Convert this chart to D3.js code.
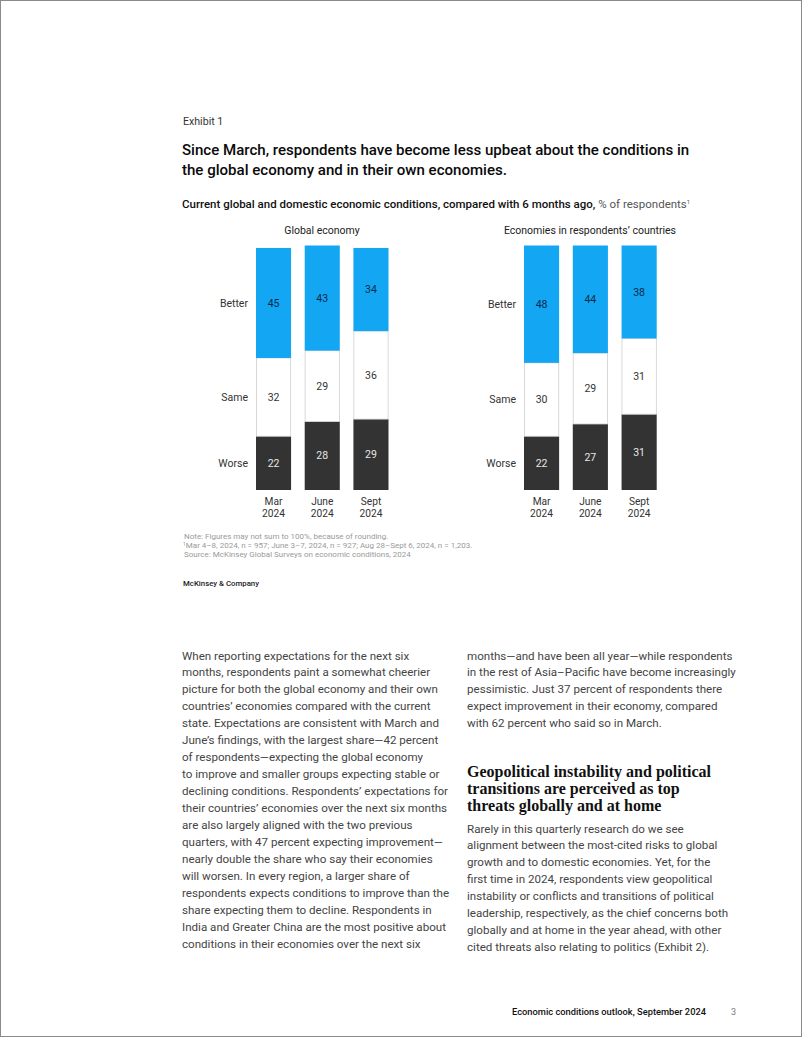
<!DOCTYPE html>
<html>
<head>
<meta charset="utf-8">
<script src="https://cdn.jsdelivr.net/npm/d3@7/dist/d3.min.js"></script>
<style>
  html, body { margin: 0; padding: 0; background: #fff; }
  svg { display: block; }
  text { font-family: Roboto, "Liberation Sans", sans-serif; }
  text.serif { font-family: "Liberation Serif", "DejaVu Serif", serif; }
</style>
</head>
<body>
<svg id="page" width="802" height="1037"></svg>
<script>
// ---------- data ----------
const periods = ["Mar 2024", "June 2024", "Sept 2024"];
const categories = ["Worse", "Same", "Better"];
const globalWorse = [22, 28, 29];
const globalSame = [32, 29, 36];
const globalBetter = [45, 43, 34];
const domesticWorse = [22, 27, 31];
const domesticSame = [30, 29, 31];
const domesticBetter = [48, 44, 38];
const panelTitles = ["Global economy", "Economies in respondents’ countries"];

const exhibitLabel = "Exhibit 1";
const titleLines = [
  "Since March, respondents have become less upbeat about the conditions in",
  "the global economy and in their own economies."
];
const subtitleBold = "Current global and domestic economic conditions, compared with 6 months ago,";
const subtitleLight = " % of respondents";
const notes = [
  "Note: Figures may not sum to 100%, because of rounding.",
  "Mar 4–8, 2024, n = 957; June 3–7, 2024, n = 927; Aug 28–Sept 6, 2024, n = 1,203.",
  "Source: McKinsey Global Surveys on economic conditions, 2024"
];
const brand = "McKinsey & Company";
const leftColumn = [
  "When reporting expectations for the next six",
  "months, respondents paint a somewhat cheerier",
  "picture for both the global economy and their own",
  "countries’ economies compared with the current",
  "state. Expectations are consistent with March and",
  "June’s findings, with the largest share—42 percent",
  "of respondents—expecting the global economy",
  "to improve and smaller groups expecting stable or",
  "declining conditions. Respondents’ expectations for",
  "their countries’ economies over the next six months",
  "are also largely aligned with the two previous",
  "quarters, with 47 percent expecting improvement—",
  "nearly double the share who say their economies",
  "will worsen. In every region, a larger share of",
  "respondents expects conditions to improve than the",
  "share expecting them to decline. Respondents in",
  "India and Greater China are the most positive about",
  "conditions in their economies over the next six"
];
const rightColumnTop = [
  "months—and have been all year—while respondents",
  "in the rest of Asia–Pacific have become increasingly",
  "pessimistic. Just 37 percent of respondents there",
  "expect improvement in their economy, compared",
  "with 62 percent who said so in March."
];
const headingLines = [
  "Geopolitical instability and political",
  "transitions are perceived as top",
  "threats globally and at home"
];
const rightColumnBottom = [
  "Rarely in this quarterly research do we see",
  "alignment between the most-cited risks to global",
  "growth and to domestic economies. Yet, for the",
  "first time in 2024, respondents view geopolitical",
  "instability or conflicts and transitions of political",
  "leadership, respectively, as the chief concerns both",
  "globally and at home in the year ahead, with other",
  "cited threats also relating to politics (Exhibit 2)."
];
const footerText = "Economic conditions outlook, September 2024";
const pageNumber = "3";

// ---------- drawing ----------
const svg = d3.select("#page");
svg.append("rect").attr("x", 0.5).attr("y", 0.5).attr("width", 801).attr("height", 1036)
  .attr("fill", "#fff").attr("stroke", "#8a8a8a").attr("stroke-width", 1);

const colors = { Worse: "#333333", Same: "#ffffff", Better: "#12a6f3" };
const labelColors = { Worse: "#e6e6e6", Same: "#333333", Better: "#0b2a4a" };

svg.append("text").attr("x", 183).attr("y", 125).attr("font-size", 10.6).attr("fill", "#333")
  .text(exhibitLabel);
titleLines.forEach((t, i) => {
  svg.append("text").attr("x", 182).attr("y", 154.5 + i * 20).attr("font-size", 15.05)
    .attr("font-weight", 500).attr("fill", "#0a0a0a").text(t);
});
const sub = svg.append("text").attr("x", 182).attr("y", 208).attr("font-size", 11.5).attr("fill", "#111");
sub.append("tspan").attr("font-weight", 500).text(subtitleBold);
sub.append("tspan").attr("fill", "#555").text(subtitleLight);
sub.append("tspan").attr("fill", "#555").attr("font-size", 6).attr("dy", -4).text("1");

const y = d3.scaleLinear().domain([0, 100]).range([490, 245.5]);

function drawPanel(x0, x1, titleX, worse, same, better, title) {
  const rows = periods.map((p, i) => ({ period: p, Worse: worse[i], Same: same[i], Better: better[i] }));
  const x = d3.scaleBand().domain(periods).range([x0, x1]).paddingInner(0.28).paddingOuter(0);
  const stack = d3.stack().keys(categories)(rows);
  const g = svg.append("g");

  g.append("text").attr("x", titleX).attr("y", 234).attr("text-anchor", "middle")
    .attr("font-size", 10.5).attr("fill", "#222").text(title);

  stack.forEach(layer => {
    const key = layer.key;
    g.selectAll(null).data(layer).join("rect")
      .attr("x", d => x(d.data.period) + (key === "Same" ? 0.4 : 0))
      .attr("width", x.bandwidth() - (key === "Same" ? 0.8 : 0))
      .attr("y", d => y(d[1]))
      .attr("height", d => y(d[0]) - y(d[1]))
      .attr("fill", colors[key])
      .attr("stroke", key === "Same" ? "#cfcfcf" : "none")
      .attr("stroke-width", 0.8);
    g.selectAll(null).data(layer).join("text")
      .attr("x", d => x(d.data.period) + x.bandwidth() / 2)
      .attr("y", d => (y(d[0]) + y(d[1])) / 2)
      .attr("dy", "0.35em")
      .attr("text-anchor", "middle").attr("font-size", 10.5)
      .attr("fill", labelColors[key])
      .text(d => d.data[key]);
    const first = layer[0];
    g.append("text").attr("x", x0 - 8).attr("y", (y(first[0]) + y(first[1])) / 2)
      .attr("dy", "0.35em").attr("text-anchor", "end").attr("font-size", 10.5)
      .attr("fill", "#333").text(key);
  });

  const axis = d3.axisBottom(x).tickSize(0).tickPadding(0);
  const ax = g.append("g").attr("transform", "translate(0,490)").call(axis);
  ax.select(".domain").remove();
  ax.attr("font-family", null).attr("font-size", null);
  ax.selectAll(".tick text").each(function(d) {
    const parts = d.split(" ");
    const t = d3.select(this).text(null).attr("font-size", 10.2).attr("fill", "#333")
      .attr("y", 15).attr("dy", 0);
    parts.forEach((p, i) => t.append("tspan").attr("x", 0).attr("dy", i === 0 ? 0 : 11.5).text(p));
  });
}

drawPanel(256, 388.5, 322, globalWorse, globalSame, globalBetter, panelTitles[0]);
drawPanel(524, 656.7, 590, domesticWorse, domesticSame, domesticBetter, panelTitles[1]);

notes.forEach((t, i) => {
  const el = svg.append("text").attr("x", i === 1 ? 183 : 184).attr("y", 539 + i * 9)
    .attr("font-size", 8).attr("fill", "#9a9a9a");
  if (i === 1) {
    el.append("tspan").attr("font-size", 5).attr("dy", -2).text("1");
    el.append("tspan").attr("dy", 2).text(t);
  } else el.text(t);
});
svg.append("text").attr("x", 183).attr("y", 585.5).attr("font-size", 7.8).attr("font-weight", 500)
  .attr("fill", "#222").text(brand);

const bodySize = 11.6, lh = 16.96;
leftColumn.forEach((t, i) => {
  svg.append("text").attr("x", 182).attr("y", 659.5 + i * lh).attr("font-size", bodySize)
    .attr("fill", "#444").text(t);
});
rightColumnTop.forEach((t, i) => {
  svg.append("text").attr("x", 467).attr("y", 659.5 + i * lh).attr("font-size", bodySize)
    .attr("fill", "#444").text(t);
});
headingLines.forEach((t, i) => {
  svg.append("text").attr("class", "serif").attr("x", 467).attr("y", 776.5 + i * 17).attr("font-size", 16)
    .attr("font-weight", 700).attr("fill", "#111").text(t);
});
rightColumnBottom.forEach((t, i) => {
  svg.append("text").attr("x", 467).attr("y", 832.5 + i * lh).attr("font-size", bodySize)
    .attr("fill", "#444").text(t);
});

svg.append("text").attr("x", 706).attr("y", 1015).attr("text-anchor", "end").attr("font-size", 9.3)
  .attr("font-weight", 500).attr("fill", "#111").text(footerText);
svg.append("text").attr("x", 731).attr("y", 1015).attr("font-size", 9).attr("fill", "#777").text(pageNumber);
</script>
</body>
</html>
